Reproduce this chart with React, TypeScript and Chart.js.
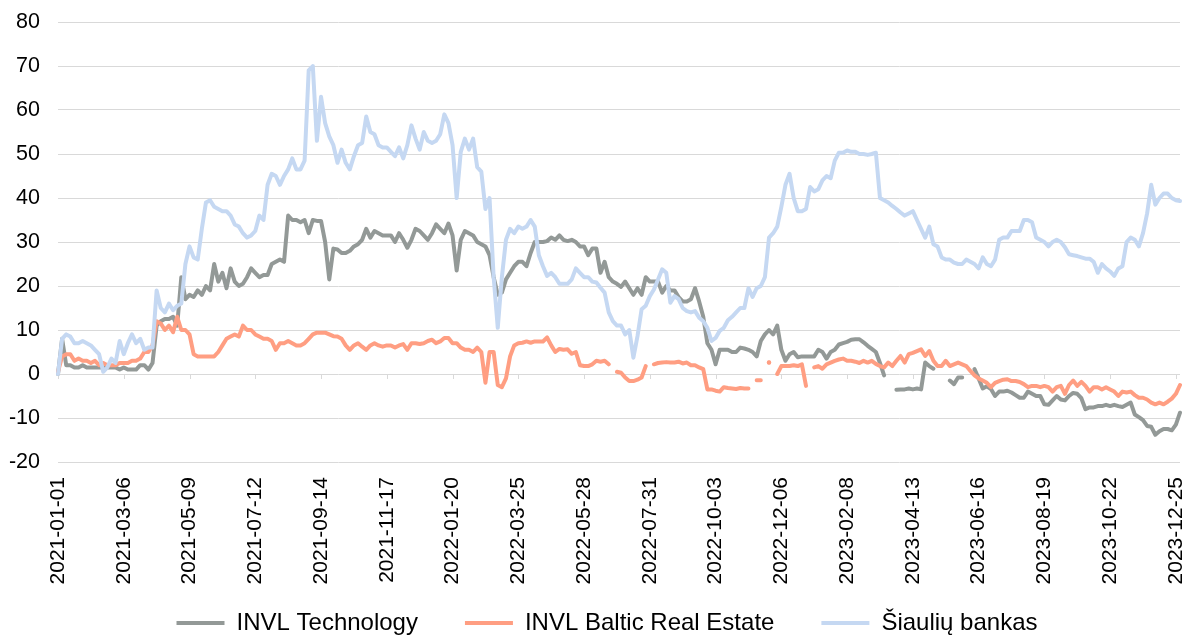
import React, { useEffect, useRef } from "react";
import { Chart, registerables } from "chart.js";

Chart.register(...registerables);

// Series sampled every 4 days from 2021-01-01 to 2023-12-29
const START_DATE = "2021-01-01";
const STEP_DAYS = 4;
const POINT_COUNT = 274;
const TICK_EVERY = 16; // 64 days

const tickLabels = [
  "2021-01-01", "2021-03-06", "2021-05-09", "2021-07-12", "2021-09-14", "2021-11-17",
  "2022-01-20", "2022-03-25", "2022-05-28", "2022-07-31", "2022-10-03", "2022-12-06",
  "2023-02-08", "2023-04-13", "2023-06-16", "2023-08-19", "2023-10-22", "2023-12-25",
];

const categories: string[] = [];
for (let i = 0; i < POINT_COUNT; i++) {
  const d = new Date(START_DATE + "T00:00:00Z");
  d.setUTCDate(d.getUTCDate() + i * STEP_DAYS);
  categories.push(d.toISOString().slice(0, 10));
}

const yTicks = { min: -20, max: 80, step: 10 };

const invlTechnology: (number | null)[] = [
  0, 8, 2, 2, 1.5, 1.5, 2, 1.5, 1.5, 1.5,
  1.5, 1.5, 1.5, 1.5, 1.5, 1, 1.5, 1, 1, 1,
  2, 2, 1, 2.5, 11, 12, 12.5, 12.5, 13, 11,
  22, 17, 18, 17.5, 19, 18, 20, 19, 25, 21,
  23, 19.5, 24, 21, 20, 20.5, 22, 24, 23, 22,
  22.5, 22.5, 25, 25.5, 26, 25.5, 36, 35, 35, 34.5,
  35, 32, 35, 34.8, 34.8, 30, 21.5, 28.5, 28.3, 27.5,
  27.5, 28, 29, 29.5, 30.5, 33, 31, 32.5, 32, 31.5,
  31.5, 31.5, 30, 32, 30.5, 28.7, 30.5, 33, 32.5, 31.5,
  30.5, 32, 34, 33, 32, 34.2, 31.5, 23.5, 30.5, 32.5,
  32, 31.5, 30, 29.5, 29, 27, 22, 18, 18.5, 21.5,
  23, 24.5, 25.5, 25.5, 24.5, 27.5, 30, 30, 30, 30.2,
  31, 30.5, 31.5, 30.5, 30.2, 30.5, 30, 29, 29, 27,
  28.5, 28.5, 23, 25.5, 22, 21, 20.5, 19.8, 21, 19.5,
  18, 19.5, 18, 22, 21, 21, 21, 18.5, 20, 19,
  19, 17.5, 16.5, 16.5, 17, 19.5, 16.5, 13, 7, 5.5,
  2.2, 5.5, 5.5, 5.5, 5, 5, 6, 5.8, 5.5, 5,
  4, 7.5, 9, 10, 9, 11, 5.5, 3, 4.5, 5,
  3.8, 4, 4, 4, 4, 5.5, 5, 3.5, 5, 5.5,
  6.7, 7, 7.3, 7.8, 7.9, 7.9, 7.2, 6.4, 5.7, 5,
  2.5, -0.3, null, null, -3.6, -3.5, -3.5, -3.3, -3.5, -3.3,
  -3.5, 2.6, 1.8, 1.2, null, null, null, -1.5, -2.3, -0.8,
  -0.8, null, null, 1.1, -1, -3.3, -2.8, -3.4, -5, -4,
  -4, -3.8, -4.2, -4.8, -5.4, -5.4, -4, -4.5, -5, -5,
  -6.9, -7, -6, -5, -5.8, -6, -5, -4.3, -4.5, -5.5,
  -8, -7.6, -7.6, -7.3, -7.3, -7, -7.3, -7, -7.3, -7.5,
  -7, -6.5, -9.2, -9.8, -10.5, -11.8, -12, -13.8, -13, -12.5,
  -12.5, -12.8, -11.5, -8.8,
];

const invlBalticRealEstate: (number | null)[] = [
  0.5, 4, 4.5, 4.5, 3, 3.5, 3, 3, 2.5, 3,
  2, 2.5, 2, 2, 2, 2.5, 2.5, 2.5, 3, 3,
  3.5, 5, 5, 6.5, 12, 11.5, 10, 11, 9.5, 13,
  10, 10, 9, 4.5, 4, 4, 4, 4, 4, 5,
  6.5, 8, 8.5, 9, 8.5, 11, 10, 10, 9, 8.5,
  8, 8, 7.5, 5.5, 7, 7, 7.5, 7, 6.5, 6.5,
  7, 8, 9, 9.4, 9.4, 9.4, 9, 8.6, 8.5, 8,
  6.5, 5.5, 6.5, 7, 6.2, 5.5, 6.5, 7, 6.5, 6.2,
  6.5, 6.5, 6, 6.5, 6.8, 5.5, 7, 7, 6.8, 7,
  7.5, 7.8, 7, 7.4, 8.2, 8.2, 7, 7, 6, 5.5,
  5.5, 5, 6, 5, -2, 5, 5, -2.5, -3, -1,
  4, 6.5, 7, 7.1, 7.4, 7.1, 7.4, 7.4, 7.4, 8.3,
  6.5, 5, 5.7, 5.5, 5.6, 4.6, 5, 2, 1.8, 1.8,
  2.2, 3, 2.8, 3, 2.2, null, 0.5, 0.3, -0.8, -1.6,
  -1.6, -1.3, -0.8, 1.8, null, 2.2, 2.5, 2.6, 2.7, 2.6,
  2.6, 2.8, 2.4, 2.6, 2, 2, 1.5, 1.1, -3.5, -3.5,
  -3.8, -4, -3, -3.2, -3.3, -3.4, -3.2, -3.3, -3.3, null,
  -1.4, -1.4, null, 2.6, null, 0, 1.8, 1.8, 1.8, 2,
  1.8, 2.2, -2.7, null, 1.5, 1.8, 1.2, 2.2, 2.6, 3,
  3.3, 3.5, 3, 3, 2.8, 2.5, 3, 2.6, 3, 2.3,
  1.8, 1.5, 2.6, 1.8, 3, 4.1, 2.6, 4.5, 4.8, 5.2,
  5.6, 4.1, 5.2, 3, 1.8, 1.8, 3, 1.8, 2.2, 2.6,
  2.2, 1.8, 0.7, -0.3, -1, -1.5, -2, -3, -2, -1.6,
  -1.3, -1.2, -1.6, -1.6, -1.8, -2.3, -3, -2.7, -2.7, -3,
  -2.7, -3, -4, -3, -2.7, -4.5, -2.5, -1.5, -2.7, -1.8,
  -2.7, -4, -3, -3, -3.5, -3, -3.5, -4, -5, -4,
  -4.2, -4, -4.8, -5.4, -5.4, -5.8, -6.5, -6.9, -6.5, -6.9,
  -6.3, -5.6, -4.5, -2.5,
];

const siauliuBankas: (number | null)[] = [
  0, 8, 9, 8.5, 7, 7, 7.5, 7, 6.5, 5.5,
  4.5, 0.5, 1.5, 3.5, 2.5, 7.5, 4.5, 7, 9, 7,
  8, 5.5, 6, 6, 19, 15, 14, 16, 14.5, 15.5,
  16, 25, 29, 26.5, 26, 33, 39, 39.5, 38, 37.5,
  37, 37, 36, 34, 33.5, 32, 31, 31.5, 32.5, 36,
  35, 43, 45.5, 45, 43, 45, 46.5, 49, 46.5, 46.5,
  48.5, 69, 70, 53, 63, 57, 54, 52, 48, 51,
  48, 46.5, 49.5, 52, 52.5, 58.5, 55, 54.5, 52, 51.5,
  51.5, 50.5, 49.5, 51.5, 49, 52, 56.5, 53.5, 51, 55,
  53, 52.5, 53, 54.5, 59, 57, 52, 40, 50.5, 53.5,
  51, 53.5, 47, 46, 37.5, 40, 22, 10.5, 22, 30.5,
  33, 32, 33.5, 33, 33.5, 35, 33.5, 27, 24.5, 22.3,
  23, 22, 20.5, 20.5, 20.5, 21.5, 24, 23, 22, 22,
  21, 20.8, 19.6, 18.5, 14, 12, 11, 11, 9, 10,
  3.7, 8.6, 14.7, 15.5, 17.7, 19.2, 21.5, 23.8, 23, 16.2,
  17.7, 17, 15, 14.3, 14, 14.3, 12.8, 12, 10.5, 7.5,
  8.2, 9.8, 10.5, 12.2, 13, 14, 15, 15, 19.5, 17.5,
  19.5, 20, 22, 31, 32, 33.5, 38, 43, 45.5, 40,
  37, 37, 37.5, 42.5, 41.5, 42, 44, 45, 44.5, 48.5,
  50.3, 50.3, 50.8, 50.5, 50.5, 50, 50, 49.8, 50, 50.3,
  40, 39.5, 39, 38.2, 37.5, 36.7, 36, 36.5, 37, 35,
  33, 31, 33.5, 29.5, 29, 26.5, 26, 26, 25.3, 25,
  25, 26, 25.5, 25, 24, 26.5, 25, 24.5, 26, 30.5,
  31, 31, 32.5, 32.5, 32.5, 35, 35, 34.5, 31, 30.5,
  30, 29, 30, 30.5, 30, 28.8, 27.2, 27, 26.8, 26.5,
  26.2, 26.2, 25.5, 23, 25, 24, 23.3, 22.3, 24, 24.5,
  30, 31, 30.5, 29, 32, 36.5, 43, 38.5, 40, 41,
  41, 40, 39.5, 39.3,
];

const seriesNames = ["INVL Technology", "INVL Baltic Real Estate", "Šiaulių bankas"];
const seriesColors = ["#939997", "#FF9E82", "#C5D8F2"];

const FONT = "'Liberation Sans', Arial, sans-serif";
const GRID = "#D9D9D9";

const zeroLineTicks = {
  id: "zeroLineTicks",
  beforeDatasetsDraw(chart: any) {
    const { ctx, scales } = chart;
    const xs = scales.x;
    const ys = scales.y;
    const y0 = ys.getPixelForValue(0);
    ctx.save();
    ctx.strokeStyle = GRID;
    ctx.lineWidth = 1;
    ctx.beginPath();
    for (let k = 0; k < tickLabels.length; k++) {
      const px = Math.round(xs.getPixelForValue(k * TICK_EVERY)) + 0.5;
      ctx.moveTo(px, y0);
      ctx.lineTo(px, y0 + 5);
    }
    ctx.stroke();
    ctx.restore();
  },
};

const isolatedRadius = (c: any) => {
  const d = c.dataset.data;
  const i = c.dataIndex;
  return d[i] != null && d[i - 1] == null && d[i + 1] == null ? 2.2 : 0;
};

export default function App() {
  const ref = useRef<HTMLCanvasElement | null>(null);

  useEffect(() => {
    if (!ref.current) return;
    const values = [invlTechnology, invlBalticRealEstate, siauliuBankas];
    const chart = new Chart(ref.current, {
      type: "line",
      data: {
        labels: categories,
        datasets: values.map((v, i) => ({
          label: seriesNames[i],
          data: v,
          borderColor: seriesColors[i],
          backgroundColor: seriesColors[i],
          borderWidth: 4,
          pointRadius: isolatedRadius,
          pointHoverRadius: 0,
          pointBorderWidth: 0,
          tension: 0,
          spanGaps: false,
          order: 3 - i,
          borderJoinStyle: "round" as const,
          borderCapStyle: "round" as const,
        })),
      },
      options: {
        animation: false,
        responsive: true,
        maintainAspectRatio: false,
        layout: { padding: { top: 22, right: -25, bottom: -9, left: 0 } },
        scales: {
          x: {
            type: "category",
            grid: { display: false, drawTicks: false },
            border: { display: false },
            ticks: {
              autoSkip: false,
              maxRotation: 90,
              minRotation: 90,
              padding: 15,
              color: "#000",
              font: { family: FONT, size: 21 },
              callback: (_v: any, idx: number) =>
                idx % TICK_EVERY === 0 ? tickLabels[idx / TICK_EVERY] ?? "" : "",
            },
            afterFit: (s: any) => {
              s.height = 102;
              s.paddingLeft = 0;
              s.paddingRight = 9;
              // let the rotated labels run below the axis box
              s._computeLabelArea = () => undefined;
            },
          },
          y: {
            min: yTicks.min,
            max: yTicks.max,
            grid: { color: GRID, lineWidth: 1, drawTicks: false },
            border: { display: false },
            ticks: {
              stepSize: yTicks.step,
              padding: 18,
              color: "#000",
              font: { family: FONT, size: 21.5 },
            },
            afterFit: (s: any) => {
              s.width = 58;
              s.paddingTop = 0;
              s.paddingBottom = 0;
            },
          },
        },
        plugins: {
          tooltip: { enabled: false },
          legend: {
            position: "bottom",
            labels: {
              font: { family: FONT, size: 24 },
              color: "#000",
              boxWidth: 48,
              boxHeight: 4,
              padding: 47,
              sort: (a: any, b: any) => a.datasetIndex - b.datasetIndex,
              generateLabels: (ch: any) =>
                Chart.defaults.plugins.legend.labels.generateLabels(ch).map((it: any) => ({
                  ...it,
                  fillStyle: seriesColors[it.datasetIndex],
                  strokeStyle: seriesColors[it.datasetIndex],
                  lineWidth: 0,
                })),
            },
          },
        },
      },
      plugins: [zeroLineTicks],
    });
    return () => chart.destroy();
  }, []);

  return (
    <div
      style={{
        position: "fixed",
        left: 0,
        top: 0,
        width: 1189,
        height: 636,
        background: "#fff",
      }}
    >
      <canvas ref={ref} />
    </div>
  );
}
